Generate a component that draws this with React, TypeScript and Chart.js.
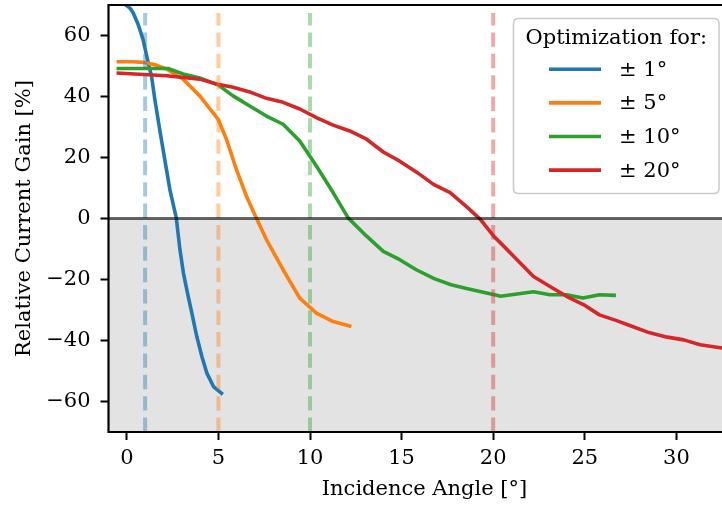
import React, { useEffect, useRef } from "react";
import { Chart, registerables } from "chart.js";

Chart.register(...registerables);

const FONT = "'DejaVu Serif', serif";

// ---- data ----
const seriesLabels = ["± 1°", "± 5°", "± 10°", "± 20°"];
const seriesColors = ["#1f77b4", "#ff7f0e", "#2ca02c", "#d62728"];
const targetColors = [
  "rgba(31,119,180,0.4)",
  "rgba(255,127,14,0.4)",
  "rgba(44,160,44,0.4)",
  "rgba(214,39,40,0.4)",
];
const targetAngles = [1, 5, 10, 20];

const angles1 = [-0.15, 0.2, 0.35, 0.62, 0.89, 1.17, 1.35, 1.53, 1.8, 2.07, 2.35, 2.7, 2.9, 3.09, 3.31, 3.55, 3.82, 4.1, 4.37, 4.73, 5.24];
const gain1 = [70.5, 68.8, 67.4, 63.6, 58.6, 51, 46.6, 39, 29, 19.4, 9.5, 0.2, -10.2, -17.9, -24.4, -31, -38.7, -45.3, -50.7, -55.1, -57.7];

const angles5 = [-0.56, 0.35, 0.89, 1.53, 2.17, 3.07, 3.98, 4.98, 5.44, 5.98, 6.53, 7.07, 7.62, 8.53, 9.44, 10.35, 11.26, 12.26];
const gain5 = [51.4, 51.4, 51.2, 50.4, 49, 45.7, 40.2, 32.6, 26, 16.1, 7.3, 0.2, -6.9, -16.8, -26.1, -31, -33.8, -35.4];

const angles10 = [-0.56, 2.25, 3.07, 3.98, 4.98, 5.8, 6.71, 7.62, 8.53, 9.44, 10.35, 11.26, 12.08, 13.09, 14.0, 14.9, 15.8, 16.78, 17.7, 18.6, 20.07, 20.4, 22.2, 23.1, 24.0, 24.9, 25.8, 26.7];
const gain10 = [49.2, 49.2, 47.4, 46.1, 43.8, 40.2, 36.9, 33.6, 30.9, 25.4, 17.2, 8.5, 0.2, -5.8, -10.8, -13.5, -16.8, -19.7, -21.7, -23, -25, -25.5, -24, -25, -25, -26.1, -25, -25.2];

const angles20 = [-0.56, 2.17, 3.98, 4.89, 5.8, 6.71, 7.62, 8.53, 9.44, 10.35, 11.26, 12.17, 13.09, 14.0, 14.9, 15.82, 16.74, 17.65, 18.56, 19.3, 20.03, 20.4, 21.3, 22.2, 23.1, 24.0, 24.95, 25.8, 26.7, 27.6, 28.5, 29.5, 30.4, 31.3, 32.2, 33.2];
const gain20 = [47.7, 46.8, 45.7, 44.1, 43, 41.5, 39.4, 38.1, 35.9, 33.1, 30.6, 28.7, 26, 21.8, 18.8, 15.2, 11.2, 8.5, 3.8, -0.3, -5.8, -8, -13.5, -19, -22.3, -25.5, -28.3, -31.6, -33.4, -35.4, -37.4, -38.9, -39.8, -41.4, -42.2, -43];

const seriesAngles = [angles1, angles5, angles10, angles20];
const seriesGains = [gain1, gain5, gain10, gain20];

const xTicks = [0, 5, 10, 15, 20, 25, 30];
const yTicks = [-60, -40, -20, 0, 20, 40, 60];
const xMin = -1;
const xMax = 33.5;
const yMin = -70;
const yMax = 70;

const legendTitle = "Optimization for:";
const xTitle = "Incidence Angle [°]";
const yTitle = "Relative Current Gain [%]";

const decorPlugin = {
  id: "decor",
  beforeDatasetsDraw(chart: any) {
    const { ctx, chartArea, scales } = chart;
    const y = scales.y;
    const y0 = y.getPixelForValue(0);
    const yb = y.getPixelForValue(yMin);
    ctx.save();
    ctx.fillStyle = "#e3e3e3";
    ctx.fillRect(chartArea.left, y0, chartArea.right - chartArea.left, yb - y0);
    ctx.restore();
  },
  afterDatasetsDraw(chart: any) {
    const { ctx, chartArea, scales } = chart;
    const x = scales.x;
    const y = scales.y;
    ctx.save();
    ctx.beginPath();
    ctx.rect(chartArea.left, chartArea.top, chartArea.right - chartArea.left, chartArea.bottom - chartArea.top);
    ctx.clip();
    targetAngles.forEach((a, i) => {
      const px = x.getPixelForValue(a);
      ctx.strokeStyle = targetColors[i];
      ctx.lineWidth = 4;
      ctx.setLineDash([14.4, 7]);
      ctx.beginPath();
      ctx.moveTo(px, y.getPixelForValue(yMin));
      ctx.lineTo(px, y.getPixelForValue(yMax) + 8);
      ctx.stroke();
    });
    ctx.setLineDash([]);
    const y0 = y.getPixelForValue(0);
    ctx.strokeStyle = "rgba(0,0,0,0.6)";
    ctx.lineWidth = 3;
    ctx.beginPath();
    ctx.moveTo(chartArea.left, y0);
    ctx.lineTo(chartArea.right, y0);
    ctx.stroke();
    ctx.restore();
  },
  afterDraw(chart: any) {
    const { ctx, chartArea } = chart;
    ctx.save();
    // frame
    ctx.strokeStyle = "#000";
    ctx.lineWidth = 2.2;
    ctx.beginPath();
    ctx.moveTo(chartArea.left, chartArea.bottom);
    ctx.lineTo(chartArea.left, chartArea.top);
    ctx.lineTo(chartArea.right, chartArea.top);
    ctx.lineTo(chartArea.right, chartArea.bottom);
    ctx.closePath();
    ctx.stroke();

    // legend
    const lx = 513.5, ly = 18.5, lw = 205.5, lh = 175, r = 5;
    ctx.beginPath();
    ctx.moveTo(lx + r, ly);
    ctx.lineTo(lx + lw - r, ly);
    ctx.quadraticCurveTo(lx + lw, ly, lx + lw, ly + r);
    ctx.lineTo(lx + lw, ly + lh - r);
    ctx.quadraticCurveTo(lx + lw, ly + lh, lx + lw - r, ly + lh);
    ctx.lineTo(lx + r, ly + lh);
    ctx.quadraticCurveTo(lx, ly + lh, lx, ly + lh - r);
    ctx.lineTo(lx, ly + r);
    ctx.quadraticCurveTo(lx, ly, lx + r, ly);
    ctx.closePath();
    ctx.fillStyle = "rgba(255,255,255,0.85)";
    ctx.fill();
    ctx.strokeStyle = "#cccccc";
    ctx.lineWidth = 1.6;
    ctx.stroke();

    ctx.fillStyle = "#000";
    ctx.font = `21px ${FONT}`;
    ctx.textAlign = "center";
    ctx.textBaseline = "alphabetic";
    ctx.fillText(legendTitle, lx + lw / 2, 44);

    ctx.textAlign = "left";
    ctx.textBaseline = "middle";
    seriesLabels.forEach((lab, i) => {
      const yy = 69.3 + i * 33.6;
      ctx.strokeStyle = seriesColors[i];
      ctx.lineWidth = 3.6;
      ctx.beginPath();
      ctx.moveTo(549, yy);
      ctx.lineTo(601, yy);
      ctx.stroke();
      ctx.fillStyle = "#000";
      ctx.fillText(lab, 619, yy + 1);
    });
    ctx.restore();
  },
};

export default function App() {
  const ref = useRef<HTMLCanvasElement>(null);
  useEffect(() => {
    const canvas = ref.current as HTMLCanvasElement;
    const datasets = seriesLabels.map((lab, i) => ({
      label: lab,
      data: seriesAngles[i].map((a, j) => ({ x: a, y: seriesGains[i][j] })),
      borderColor: seriesColors[i],
      backgroundColor: seriesColors[i],
      borderWidth: 3.6,
      pointRadius: 0,
      showLine: true,
      tension: 0,
      fill: false,
      borderJoinStyle: "round" as const,
      borderCapStyle: "butt" as const,
      order: 4 - i,
    }));
    const chart = new Chart(canvas, {
      type: "scatter",
      data: { datasets },
      options: {
        animation: false,
        responsive: false,
        devicePixelRatio: 1,
        events: [],
        layout: { padding: { top: 5, left: 0, right: 1.5, bottom: 0 }, autoPadding: false },
        plugins: { legend: { display: false }, tooltip: { enabled: false } },
        scales: {
          x: {
            type: "linear",
            min: xMin,
            max: xMax,
            afterBuildTicks: (s: any) => {
              s.ticks = xTicks.map((v) => ({ value: v }));
            },
            afterFit: (s: any) => {
              s.height = 76;
              s.paddingLeft = 0;
              s.paddingRight = 0;
            },
            grid: { drawOnChartArea: false, drawTicks: true, tickLength: 8, tickWidth: 2, tickColor: "#000", color: "#000" },
            border: { display: false },
            ticks: {
              color: "#000",
              font: { family: FONT, size: 21 },
              padding: 6,
              maxRotation: 0,
              callback: (v: any) => String(v),
            },
            title: {
              display: true,
              text: xTitle,
              color: "#000",
              font: { family: FONT, size: 21 },
              padding: { top: 0, bottom: 6 },
            },
          },
          y: {
            type: "linear",
            min: yMin,
            max: yMax,
            afterBuildTicks: (s: any) => {
              s.ticks = yTicks.map((v) => ({ value: v }));
            },
            afterFit: (s: any) => {
              s.width = 108.5;
              s.paddingTop = 0;
              s.paddingBottom = 0;
            },
            grid: { drawOnChartArea: false, drawTicks: true, tickLength: 8, tickWidth: 2, tickColor: "#000", color: "#000" },
            border: { display: false },
            ticks: {
              color: "#000",
              font: { family: FONT, size: 21 },
              padding: 10,
              callback: (v: any) => (v < 0 ? "\u2212" + Math.abs(v) : String(v)),
            },
            title: {
              display: true,
              text: yTitle,
              color: "#000",
              font: { family: FONT, size: 21 },
              padding: { top: 12, bottom: 0 },
            },
          },
        },
      },
      plugins: [decorPlugin],
    } as any);
    return () => chart.destroy();
  }, []);

  return (
    <div style={{ position: "fixed", left: 0, top: 0, width: 722, height: 508, overflow: "hidden", background: "#fff" }}>
      <canvas ref={ref} width={742} height={508} style={{ display: "block", width: 742, height: 508 }} />
    </div>
  );
}
